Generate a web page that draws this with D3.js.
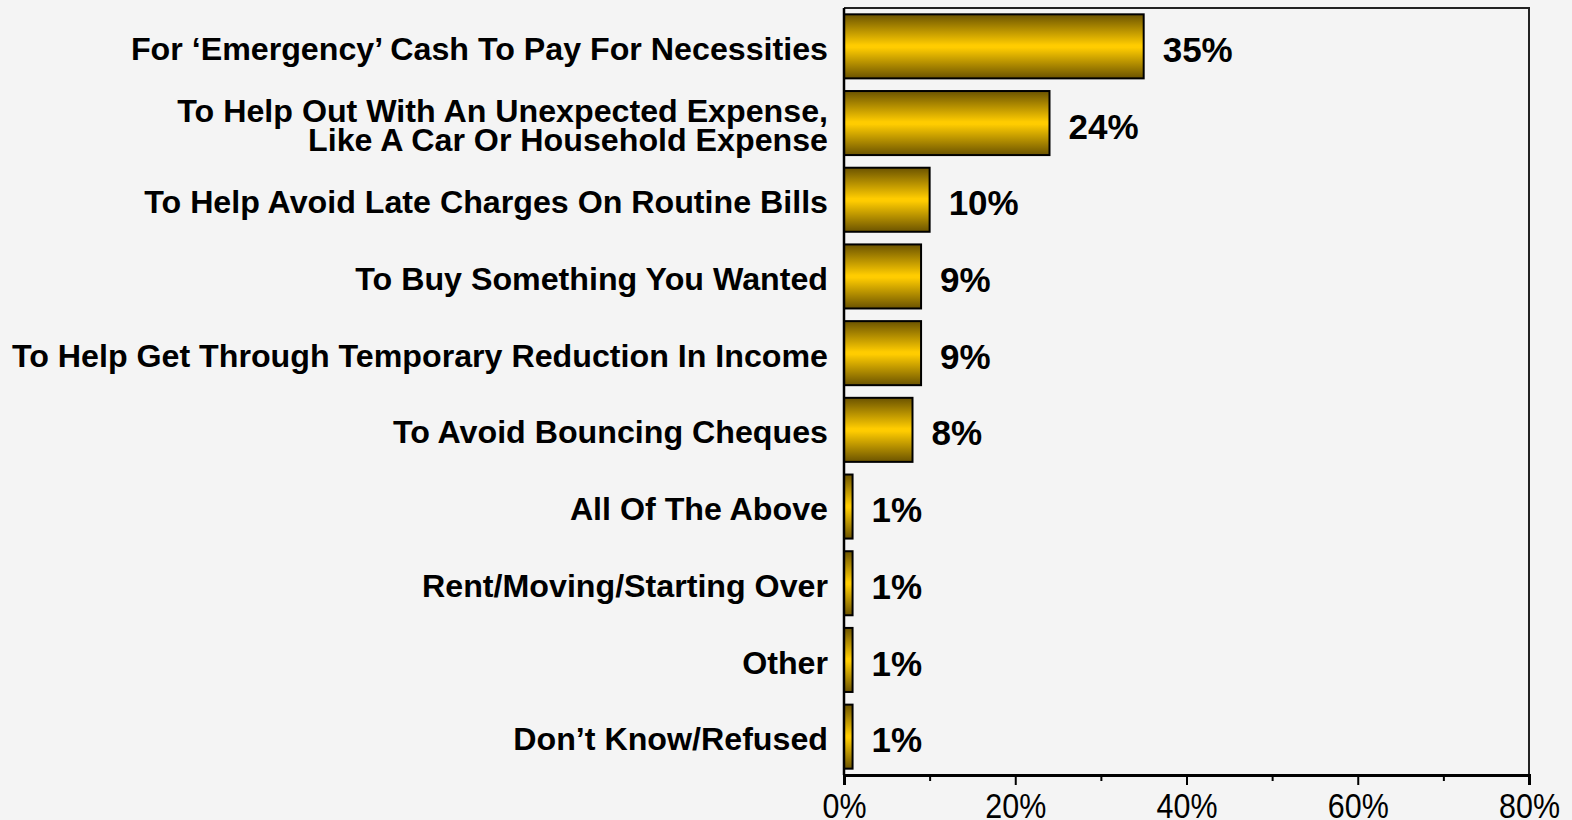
<!DOCTYPE html>
<html>
<head>
<meta charset="utf-8">
<script src="https://cdn.jsdelivr.net/npm/d3@7"></script>
<style>
  html, body { margin: 0; padding: 0; background: #f4f4f4; }
  svg { display: block; }
</style>
</head>
<body>
<svg id="chart" width="1572" height="820"></svg>
<script>
// Reasons for taking the loan (share of respondents)
const categories = [
  ["For \u2018Emergency\u2019 Cash To Pay For Necessities"],
  ["To Help Out With An Unexpected Expense,", "Like A Car Or Household Expense"],
  ["To Help Avoid Late Charges On Routine Bills"],
  ["To Buy Something You Wanted"],
  ["To Help Get Through Temporary Reduction In Income"],
  ["To Avoid Bouncing Cheques"],
  ["All Of The Above"],
  ["Rent/Moving/Starting Over"],
  ["Other"],
  ["Don\u2019t Know/Refused"]
];
const values = [35, 24, 10, 9, 9, 8, 1, 1, 1, 1];
const majorTicks = [0, 20, 40, 60, 80];
const minorTicks = [10, 30, 50, 70];

const svg = d3.select("#chart");
const plotL = 844, plotR = 1529, plotT = 8, plotB = 775;

const x = d3.scaleLinear().domain([0, 80]).range([plotL, plotR]);
const y = d3.scaleBand().domain(d3.range(values.length)).range([plotT, plotB]).paddingInner(0.165).paddingOuter(0.0825);

// bar fill: dark edges, bright gold centre
const grad = svg.append("defs").append("linearGradient")
  .attr("id", "gold").attr("x1", 0).attr("y1", 0).attr("x2", 0).attr("y2", 1);
grad.append("stop").attr("offset", "0%").attr("stop-color", "#6b5300");
grad.append("stop").attr("offset", "48%").attr("stop-color", "#ffcc00");
grad.append("stop").attr("offset", "52%").attr("stop-color", "#ffcc00");
grad.append("stop").attr("offset", "100%").attr("stop-color", "#6b5300");

// plot frame (top and right)
svg.append("path")
  .attr("d", `M${plotL},${plotT}H${plotR}V${plotB}`)
  .attr("fill", "none").attr("stroke", "#222").attr("stroke-width", 2);

// bars
svg.append("g").selectAll("rect").data(values).join("rect")
  .attr("x", x(0))
  .attr("y", (d, i) => y(i))
  .attr("width", d => x(d) - x(0))
  .attr("height", y.bandwidth())
  .attr("fill", "url(#gold)")
  .attr("stroke", "#000").attr("stroke-width", 2);

// value labels
svg.append("g").selectAll("text").data(values).join("text")
  .attr("x", d => x(d) + 19)
  .attr("y", (d, i) => y(i) + y.bandwidth() / 2 + 3)
  .attr("dy", "0.36em")
  .attr("font-family", "Liberation Sans, Arial, sans-serif")
  .attr("font-weight", "bold").attr("font-size", 35).attr("fill", "#000")
  .text(d => d + "%");

// category labels
const catG = svg.append("g");
categories.forEach((lines, i) => {
  const cy = y(i) + y.bandwidth() / 2 + 2;
  const lh = 29.5;
  const t = catG.append("text")
    .attr("text-anchor", "end")
    .attr("font-family", "Liberation Sans, Arial, sans-serif")
    .attr("font-weight", "bold").attr("font-size", 32.2).attr("fill", "#000");
  lines.forEach((ln, k) => {
    t.append("tspan")
      .attr("x", plotL - 16)
      .attr("y", cy + (k - (lines.length - 1) / 2) * lh)
      .attr("dy", "0.36em")
      .text(ln);
  });
});

// left axis line
svg.append("line")
  .attr("x1", plotL).attr("x2", plotL).attr("y1", plotT).attr("y2", plotB)
  .attr("stroke", "#000").attr("stroke-width", 2.5);

// bottom axis
const axis = svg.append("g").attr("transform", `translate(0,${plotB})`)
  .call(d3.axisBottom(x).tickValues(majorTicks).tickSize(10).tickFormat(d => d + "%"));
axis.select(".domain").attr("stroke", "#000").attr("stroke-width", 3);
axis.selectAll(".tick line").attr("stroke", "#000").attr("stroke-width", 2);
axis.selectAll(".tick text")
  .attr("font-family", "Liberation Sans, Arial, sans-serif")
  .attr("font-size", 35).attr("fill", "#000")
  .attr("y", 0).attr("dy", 0)
  .attr("transform", "translate(0,43) scale(0.87,1)");

svg.append("g").attr("transform", `translate(0,${plotB})`)
  .call(d3.axisBottom(x).tickValues(minorTicks).tickSize(6).tickFormat(""))
  .call(g => g.select(".domain").remove())
  .call(g => g.selectAll(".tick line").attr("stroke", "#000").attr("stroke-width", 2));
</script>
</body>
</html>
